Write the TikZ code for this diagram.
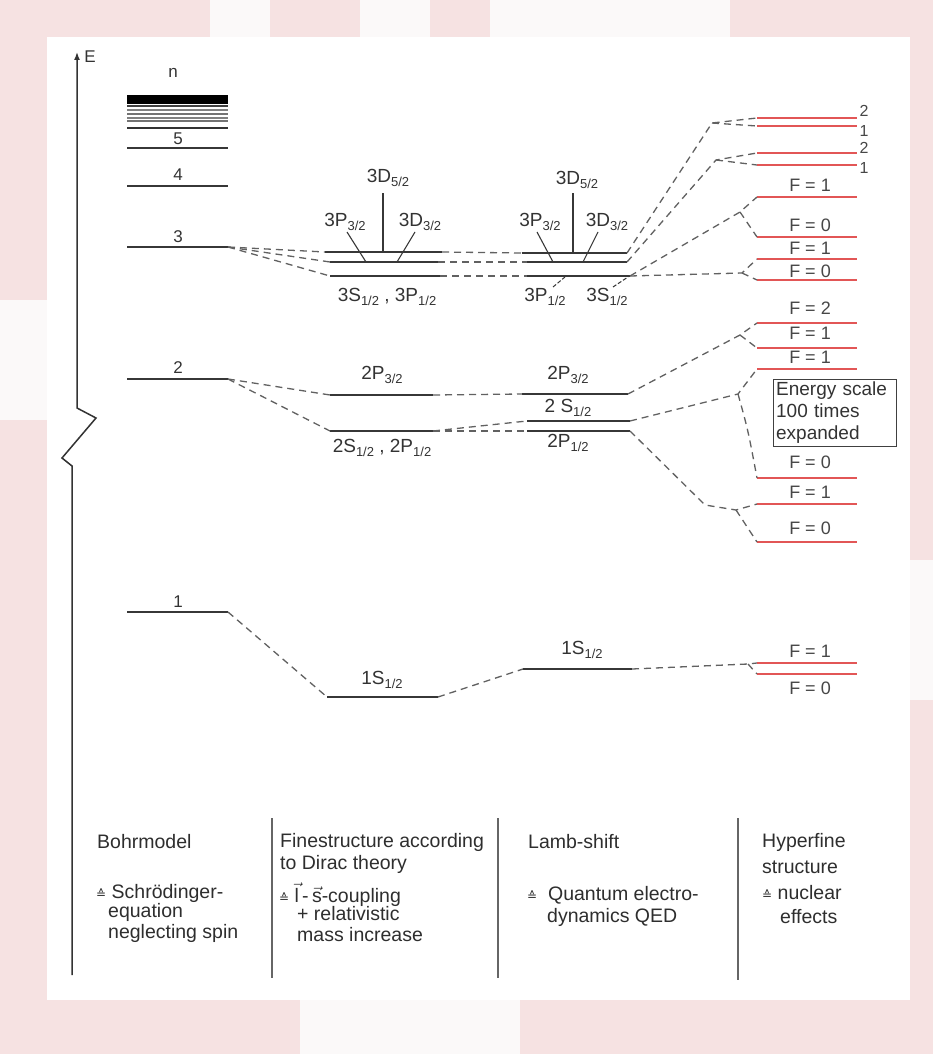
\documentclass[tikz,border=0pt]{standalone}
\usepackage{fontspec}
\setmainfont{Liberation Sans}
\newfontfamily\dvfont{DejaVu Sans}
\usetikzlibrary{arrows.meta}
\definecolor{bgpink}{RGB}{246,226,226}
\definecolor{offwhite}{RGB}{251,249,249}
\definecolor{hfred}{RGB}{226,86,86}
\definecolor{lvgray}{RGB}{55,55,55}
\newcommand\lvsub[1]{\raisebox{-0.4ex}{\fontsize{13}{13}\selectfont #1}}
\newcommand\corr{{\dvfont\fontsize{12}{12}\selectfont ≙}}
\newcommand\vecltr[1]{\ensuremath{\vec{\mbox{#1}}}}
\newcommand\lvl[5]{\coordinate (#1L) at (#2,#4); \coordinate (#1R) at (#3,#4); \draw[#5] (#1L) -- (#1R);}
\begin{document}
\begin{tikzpicture}[x=1pt,y=-1pt,
  levline/.style={line width=1.8pt,draw=lvgray},
  hf/.style={line width=1.8pt,draw=hfred},
  conn/.style={dash pattern=on 7pt off 5pt,line width=1.3pt,draw=black!62},
  lab/.style={font=\fontsize{19}{19}\selectfont,inner sep=0pt,text=black!80},
  num/.style={font=\fontsize{17}{17}\selectfont,inner sep=0pt,text=black!80},
  flab/.style={font=\fontsize{18}{18}\selectfont,inner sep=0pt,text=black!72},
  slab/.style={font=\fontsize{16}{16}\selectfont,inner sep=0pt,text=black!72},
  txt/.style={font=\fontsize{19.5}{22}\selectfont,anchor=west,inner sep=0pt,text=black!82},
  sep/.style={line width=1.6pt,draw=black!60}]
\useasboundingbox (0,0) rectangle (933,1054);
% background
\fill[bgpink] (0,0) rectangle (933,1054);
\fill[offwhite] (210,0) rectangle (270,37);
\fill[offwhite] (360,0) rectangle (430,37);
\fill[offwhite] (490,0) rectangle (730,37);
\fill[offwhite] (910,560) rectangle (933,700);
\fill[offwhite] (0,300) rectangle (47,420);
\fill[offwhite] (300,1000) rectangle (520,1054);
\fill[white] (47,37) rectangle (910,1000);

% energy axis
\coordinate (ax0) at (72,975);
\coordinate (z1) at (72,466);
\coordinate (z2) at (62,458);
\coordinate (z3) at (96,418);
\coordinate (z4) at (77,408);
\coordinate (axtop) at (77,52);
\draw[line width=1.5pt,draw=black!80,-{Latex[length=8pt,width=6pt]}] (ax0) -- (z1) -- (z2) -- (z3) -- (z4) -- (axtop);
\node[num] (E) at (90,57) {E};

% Bohr model
\node[num] (nlab) at (173,73) {n};
\fill[black] (127,95) rectangle (228,104);
\draw[line width=1.6pt,black!75] (127,106) -- (228,106);
\draw[line width=1.1pt,black!50] (127,110) -- (228,110);
\draw[line width=1.1pt,black!55] (127,114) -- (228,114);
\draw[line width=1.1pt,black!50] (127,118) -- (228,118);
\draw[line width=1.1pt,black!55] (127,121) -- (228,121);
\draw[line width=1.6pt,black!80] (127,128) -- (228,128);
\node[num] (n5) at (178,139) {5};
\lvl{b5}{127}{228}{148}{levline}
\node[num] (n4) at (178,175) {4};
\lvl{b4}{127}{228}{186}{levline}
\node[num] (n3) at (178,237) {3};
\lvl{b3}{127}{228}{247}{levline}
\node[num] (n2) at (178,368) {2};
\lvl{b2}{127}{228}{379}{levline}
\node[num] (n1) at (178,602) {1};
\lvl{b1}{127}{228}{612}{levline}

% Fine structure
\lvl{fa}{325}{442}{252}{levline}
\lvl{fb}{330}{438}{262}{levline}
\lvl{fc}{330}{440}{276}{levline}
\node[lab] (fD5) at (388,178) {3D\lvsub{5/2}};
\node[lab] (fP3) at (345,222) {3P\lvsub{3/2}};
\node[lab] (fD3) at (420,222) {3D\lvsub{3/2}};
\coordinate (fvt) at (383,193); \coordinate (fvb) at (383,252);
\draw[line width=1.3pt,lvgray] (fvt) -- (fvb);
\coordinate (fp1) at (347,232); \coordinate (fp2) at (366,262);
\draw[line width=1.1pt,lvgray] (fp1) -- (fp2);
\coordinate (fd1) at (415,232); \coordinate (fd2) at (397,262);
\draw[line width=1.1pt,lvgray] (fd1) -- (fd2);
\node[lab] (fSP) at (387,297) {3S\lvsub{1/2} , 3P\lvsub{1/2}};

\lvl{f2a}{330}{433}{395}{levline}
\lvl{f2b}{330}{433}{431}{levline}
\node[lab] (f2P3) at (382,375) {2P\lvsub{3/2}};
\node[lab] (f2SP) at (382,448) {2S\lvsub{1/2} , 2P\lvsub{1/2}};

\lvl{f1}{327}{438}{697}{levline}
\node[lab] (f1S) at (382,680) {1S\lvsub{1/2}};

% Lamb shift
\lvl{la}{522}{627}{253}{levline}
\lvl{lb}{527}{627}{262}{levline}
\lvl{lc}{527}{630}{276}{levline}
\node[lab] (lD5) at (577,180) {3D\lvsub{5/2}};
\node[lab] (lP3) at (540,222) {3P\lvsub{3/2}};
\node[lab] (lD3) at (607,222) {3D\lvsub{3/2}};
\coordinate (lvt) at (573,193); \coordinate (lvb) at (573,253);
\draw[line width=1.3pt,lvgray] (lvt) -- (lvb);
\coordinate (lp1) at (537,232); \coordinate (lp2) at (553,262);
\draw[line width=1.1pt,lvgray] (lp1) -- (lp2);
\coordinate (ld1) at (598,232); \coordinate (ld2) at (583,262);
\draw[line width=1.1pt,lvgray] (ld1) -- (ld2);
\node[lab] (lP1) at (545,297) {3P\lvsub{1/2}};
\node[lab] (lS1) at (607,297) {3S\lvsub{1/2}};
\coordinate (lq1) at (553,287); \coordinate (lq2) at (565,277);
\draw[line width=1pt,lvgray,dash pattern=on 4pt off 2pt] (lq1) -- (lq2);
\coordinate (lr1) at (613,287); \coordinate (lr2) at (628,277);
\draw[line width=1pt,lvgray,dash pattern=on 4pt off 2pt] (lr1) -- (lr2);

\lvl{l2a}{522}{628}{394}{levline}
\lvl{l2b}{527}{630}{421}{levline}
\lvl{l2c}{527}{630}{431}{levline}
\node[lab] (l2P3) at (568,375) {2P\lvsub{3/2}};
\node[lab] (l2S) at (568,408) {2 S\lvsub{1/2}};
\node[lab] (l2P1) at (568,443) {2P\lvsub{1/2}};

\lvl{l1}{523}{632}{669}{levline}
\node[lab] (l1S) at (582,650) {1S\lvsub{1/2}};

% Hyperfine structure
\lvl{h1}{757}{857}{118}{hf}
\lvl{h2}{757}{857}{126}{hf}
\lvl{h3}{757}{857}{153}{hf}
\lvl{h4}{757}{857}{165}{hf}
\node[slab] (h1t) at (864,111) {2};
\node[slab] (h2t) at (864,131) {1};
\node[slab] (h3t) at (864,148) {2};
\node[slab] (h4t) at (864,168) {1};
\lvl{h5}{757}{857}{197}{hf}
\lvl{h6}{757}{857}{237}{hf}
\lvl{h7}{757}{857}{259}{hf}
\lvl{h8}{757}{857}{280}{hf}
\node[flab] (h5t) at (810,185) {F = 1};
\node[flab] (h6t) at (810,225) {F = 0};
\node[flab] (h7t) at (810,248) {F = 1};
\node[flab] (h8t) at (810,271) {F = 0};
\lvl{h9}{757}{857}{323}{hf}
\lvl{h10}{757}{857}{348}{hf}
\lvl{h11}{757}{857}{369}{hf}
\lvl{h12}{757}{857}{478}{hf}
\lvl{h13}{757}{857}{504}{hf}
\lvl{h14}{757}{857}{542}{hf}
\node[flab] (h9t) at (810,308) {F = 2};
\node[flab] (h10t) at (810,333) {F = 1};
\node[flab] (h11t) at (810,357) {F = 1};
\node[flab] (h12t) at (810,462) {F = 0};
\node[flab] (h13t) at (810,492) {F = 1};
\node[flab] (h14t) at (810,528) {F = 0};
\lvl{h15}{757}{857}{663}{hf}
\lvl{h16}{757}{857}{674}{hf}
\node[flab] (h15t) at (810,651) {F = 1};
\node[flab] (h16t) at (810,688) {F = 0};
\node[draw=black!75,line width=1.3pt,align=left,anchor=north west,
      font=\fontsize{19}{22}\selectfont,text=black!80,inner sep=2.5pt,text width=118pt] (box) at (773,379)
      {Energy scale\\100 times\\expanded};

% connectors Bohr -> fine
\draw[conn] (b3R) -- (faL);
\draw[conn] (b3R) -- (fbL);
\draw[conn] (b3R) -- (fcL);
\draw[conn] (b2R) -- (f2aL);
\draw[conn] (b2R) -- (f2bL);
\draw[conn] (b1R) -- (f1L);
% fine -> Lamb
\draw[conn] (faR) -- (laL);
\draw[conn] (fbR) -- (lbL);
\draw[conn] (fcR) -- (lcL);
\draw[conn] (f2aR) -- (l2aL);
\draw[conn] (f2bR) -- (l2bL);
\draw[conn] (f2bR) -- (l2cL);
\draw[conn] (f1R) -- (l1L);
% Lamb -> hyperfine
\coordinate (e1) at (712,123);
\coordinate (e2) at (716,160);
\coordinate (e3) at (740,212);
\coordinate (e4) at (742,273);
\draw[conn] (laR) -- (e1) -- (h1L);
\draw[conn] (e1) -- (h2L);
\draw[conn] (lbR) -- (e2) -- (h3L);
\draw[conn] (e2) -- (h4L);
\draw[conn] (lcR) -- (e3) -- (h5L);
\draw[conn] (e3) -- (h6L);
\draw[conn] (lcR) -- (e4) -- (h7L);
\draw[conn] (e4) -- (h8L);
\coordinate (e5) at (740,335);
\coordinate (e6) at (738,394);
\coordinate (e7a) at (705,505);
\coordinate (e7) at (736,510);
\draw[conn] (l2aR) -- (e5) -- (h9L);
\draw[conn] (e5) -- (h10L);
\draw[conn] (l2bR) -- (e6) -- (h11L);
\draw[conn] (e6) .. controls (748,430) .. (h12L);
\draw[conn] (l2cR) -- (e7a) -- (e7) -- (h13L);
\draw[conn] (e7) -- (h14L);
\coordinate (e8) at (748,664);
\draw[conn] (l1R) -- (e8) -- (h15L);
\draw[conn] (e8) -- (h16L);

% bottom separators
\coordinate (s1t) at (272,818); \coordinate (s1b) at (272,978);
\coordinate (s2t) at (498,818); \coordinate (s2b) at (498,978);
\coordinate (s3t) at (738,818); \coordinate (s3b) at (738,980);
\draw[sep] (s1t) -- (s1b);
\draw[sep] (s2t) -- (s2b);
\draw[sep] (s3t) -- (s3b);

% bottom texts
\node[txt] (t1a) at (97,842) {Bohrmodel};
\node[txt] (t1d) at (96,893) {\corr\ Schrödinger-};
\node[txt] (t1e) at (108,912) {equation};
\node[txt] (t1f) at (108,933) {neglecting spin};

\node[txt] (t2a) at (280,842) {Finestructure according};
\node[txt] (t2b) at (280,864) {to Dirac theory};
\node[txt] (t2d) at (279,895) {\corr\ \vecltr{l}\,-\,\vecltr{s}-coupling};
\node[txt] (t2e) at (297,914) {+ relativistic};
\node[txt] (t2f) at (297,935) {mass increase};

\node[txt] (t3a) at (528,842) {Lamb-shift};
\node[txt] (t3d) at (527,895) {\corr\ \ Quantum electro-};
\node[txt] (t3e) at (547,917) {dynamics QED};

\node[txt] (t4a) at (762,842) {Hyperfine};
\node[txt] (t4b) at (762,867) {structure};
\node[txt] (t4d) at (762,893) {\corr\ nuclear};
\node[txt] (t4e) at (780,917) {effects};
\end{tikzpicture}
\end{document}
